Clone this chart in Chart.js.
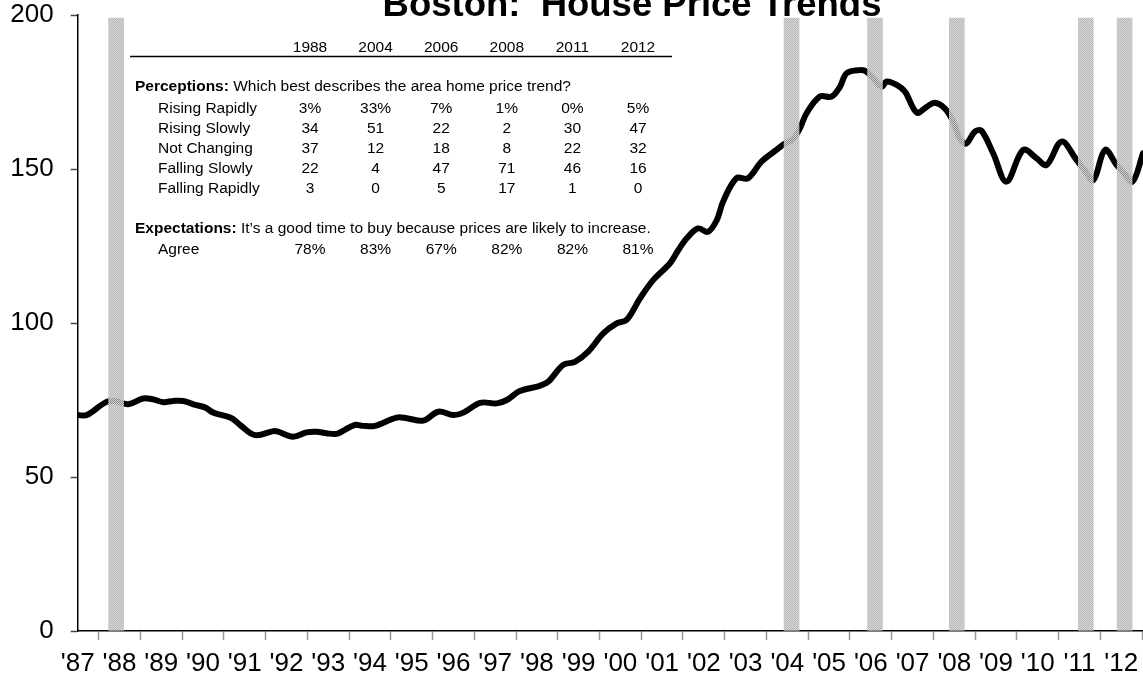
<!DOCTYPE html>
<html>
<head>
<meta charset="utf-8">
<script src="https://cdn.jsdelivr.net/npm/chart.js@4.4.0/dist/chart.umd.min.js"></script>
<style>
  html, body { margin: 0; padding: 0; background: #fff; }
</style>
</head>
<body>
<canvas id="myChart" width="1143" height="679"></canvas>
<script>
// Indice prezzi case Boston (anno decimale, valore indice)
var years = [
  1987.00, 1987.22, 1987.69, 1987.93, 1988.21, 1988.57, 1988.81, 1989.05, 1989.29, 1989.53,
  1989.77, 1990.05, 1990.25, 1990.69, 1990.89, 1991.25, 1991.69, 1991.80, 1992.16, 1992.48,
  1992.72, 1992.96, 1993.20, 1993.40, 1993.64, 1993.84, 1994.12, 1994.64, 1994.88, 1995.28,
  1995.64, 1996.00, 1996.24, 1996.64, 1997.04, 1997.28, 1997.59, 1998.07, 1998.27, 1998.63,
  1998.91, 1999.23, 1999.59, 1999.91, 2000.15, 2000.47, 2000.79, 2001.19, 2001.39, 2001.59,
  2001.86, 2002.10, 2002.31, 2002.46, 2002.78, 2003.06, 2003.38, 2003.74, 2003.94, 2004.12,
  2004.30, 2004.46, 2004.78, 2005.06, 2005.26, 2005.42, 2005.74, 2005.90, 2006.08, 2006.26,
  2006.38, 2006.62, 2006.82, 2007.10, 2007.34, 2007.53, 2007.77, 2007.95, 2008.15, 2008.29,
  2008.49, 2008.65, 2008.93, 2009.25, 2009.65, 2009.97, 2010.21, 2010.57, 2010.93, 2011.10,
  2011.33, 2011.61, 2011.89, 2012.05, 2012.27, 2012.52
];
var index = [
  70.1, 70.1, 74.4, 74.6, 73.6, 75.5, 75.2, 74.3, 74.7, 74.7,
  73.6, 72.6, 70.9, 69.1, 66.9, 63.6, 64.9, 64.7, 63.1, 64.5,
  64.7, 64.2, 64.0, 65.3, 66.9, 66.6, 66.6, 69.3, 69.1, 68.3,
  71.2, 70.1, 70.9, 74.1, 73.9, 75.0, 77.9, 79.6, 80.9, 86.4,
  87.4, 90.7, 96.6, 99.9, 101.0, 108.0, 114.0, 119.4, 123.7, 127.5,
  130.7, 129.6, 133.4, 139.4, 147.0, 147.0, 152.4, 156.2, 158.3, 159.5,
  163.2, 168.1, 173.5, 173.5, 176.7, 181.1, 182.1, 181.6, 179.0, 176.7,
  178.4, 177.3, 175.1, 168.3, 170.2, 171.5, 169.7, 166.0, 159.5, 158.3,
  162.1, 162.4, 155.1, 145.9, 156.2, 153.5, 151.3, 158.9, 152.9, 150.0,
  146.4, 156.2, 151.3, 149.0, 145.9, 155.1
];

// Date dei sondaggi (barre grigie)
var surveyDates = [1987.92, 2004.10, 2006.10, 2008.06, 2011.15, 2012.08];
var surveyLabels = ["1988", "2004", "2006", "2008", "2011", "2012"];

// Tabella dei sondaggi
var perceptionRows = ["Rising Rapidly", "Rising Slowly", "Not Changing", "Falling Slowly", "Falling Rapidly"];
var perceptionValues = [
  [3, 33, 7, 1, 0, 5],
  [34, 51, 22, 2, 30, 47],
  [37, 12, 18, 8, 22, 32],
  [22, 4, 47, 71, 46, 16],
  [3, 0, 5, 17, 1, 0]
];
var agreeValues = [78, 83, 67, 82, 82, 81];

var yTicks = [0, 50, 100, 150, 200];

var FONT = "'Liberation Sans', Arial, sans-serif";

// Pattern puntinato per le barre grigie
function greyPattern() {
  var c = document.createElement("canvas");
  c.width = 2;
  c.height = 2;
  var g = c.getContext("2d");
  g.fillStyle = "rgb(212,212,212)";
  g.fillRect(1, 0, 1, 1);
  g.fillRect(0, 1, 1, 1);
  g.fillStyle = "rgba(170,170,170,0.8)";
  g.fillRect(0, 0, 1, 1);
  g.fillRect(1, 1, 1, 1);
  return g.createPattern(c, "repeat");
}

// Tabella disegnata sul canvas
const tablePlugin = {
  id: "surveyTable",
  beforeDatasetsDraw(chart) {
    const ctx = chart.ctx;
    const colX = (i) => 310 + i * 65.6;
    ctx.save();
    ctx.fillStyle = "#000";
    ctx.textBaseline = "middle";

    ctx.font = "15.5px " + FONT;
    ctx.textAlign = "center";
    surveyLabels.forEach((s, i) => ctx.fillText(s, colX(i), 47.7));

    ctx.strokeStyle = "#000";
    ctx.lineWidth = 1.3;
    ctx.beginPath();
    ctx.moveTo(130, 56.5);
    ctx.lineTo(672, 56.5);
    ctx.stroke();

    ctx.textAlign = "left";
    ctx.font = "bold 15.5px " + FONT;
    ctx.fillText("Perceptions:", 135, 86.7);
    let w = ctx.measureText("Perceptions: ").width;
    ctx.font = "15.5px " + FONT;
    ctx.fillText("Which best describes the area home price trend?", 135 + w, 86.7);

    perceptionRows.forEach((label, r) => {
      const y = 109 + r * 20;
      ctx.textAlign = "left";
      ctx.fillText(label, 158, y);
      ctx.textAlign = "center";
      perceptionValues[r].forEach((v, i) => {
        ctx.fillText(r === 0 ? v + "%" : String(v), colX(i), y);
      });
    });

    ctx.textAlign = "left";
    ctx.font = "bold 15.5px " + FONT;
    ctx.fillText("Expectations:", 135, 229);
    w = ctx.measureText("Expectations: ").width;
    ctx.font = "15.5px " + FONT;
    ctx.fillText("It\u2019s a good time to buy because prices are likely to increase.", 135 + w, 229);

    ctx.fillText("Agree", 158, 250);
    ctx.textAlign = "center";
    agreeValues.forEach((v, i) => ctx.fillText(v + "%", colX(i), 250));
    ctx.restore();
  },
  afterDraw(chart) {
    // Titolo (tagliato in alto come nell'originale)
    const ctx = chart.ctx;
    ctx.save();
    ctx.fillStyle = "#000";
    ctx.font = "bold 36.5px " + FONT;
    ctx.textAlign = "center";
    ctx.textBaseline = "alphabetic";
    ctx.fillText("Boston:  House Price Trends", 632, 16);
    ctx.restore();
  }
};

new Chart("myChart", {
  type: "line",
  data: {
    datasets: [
      {
        type: "bar",
        data: surveyDates.map((t) => ({ x: t, y: 199 })),
        backgroundColor: greyPattern(),
        borderWidth: 0,
        barThickness: 15,
        order: 0
      },
      {
        type: "line",
        data: years.map((t, i) => ({ x: t, y: index[i] })),
        borderColor: "#000",
        borderWidth: 6,
        pointRadius: 0,
        tension: 0.35,
        borderJoinStyle: "round",
        borderCapStyle: "round",
        order: 1
      }
    ]
  },
  options: {
    responsive: false,
    animation: false,
    devicePixelRatio: 1,
    layout: { padding: { top: 15, right: 0, left: 0, bottom: 0 } },
    plugins: {
      legend: { display: false },
      tooltip: { enabled: false },
      title: { display: false }
    },
    scales: {
      x: {
        type: "linear",
        min: 1987,
        max: 2012.52,
        offset: false,
        afterFit: (scale) => {
          scale.height = 48;
          scale.paddingLeft = 0;
          scale.paddingRight = 0;
        },
        border: { display: true, color: "#000", width: 1.5 },
        grid: { drawOnChartArea: false, drawTicks: true, tickLength: 9, tickColor: "#999", tickWidth: 1.5 },
        ticks: {
          stepSize: 1,
          includeBounds: false,
          autoSkip: false,
          maxRotation: 0,
          padding: 8,
          color: "#000",
          font: { family: FONT, size: 26 },
          callback: (v) => "'" + String(v).slice(2)
        }
      },
      y: {
        min: 0,
        max: 200,
        afterFit: (scale) => {
          scale.width = 77.7;
          scale.paddingTop = 0;
          scale.paddingBottom = 0;
        },
        afterBuildTicks: (scale) => { scale.ticks = yTicks.map((v) => ({ value: v })); },
        border: { display: true, color: "#000", width: 1.5 },
        grid: { drawOnChartArea: false, drawTicks: true, tickLength: 7, tickColor: "#444", tickWidth: 1.5 },
        ticks: {
          padding: 17,
          color: "#000",
          font: { family: FONT, size: 26 }
        }
      }
    }
  },
  plugins: [tablePlugin]
});
</script>
</body>
</html>
